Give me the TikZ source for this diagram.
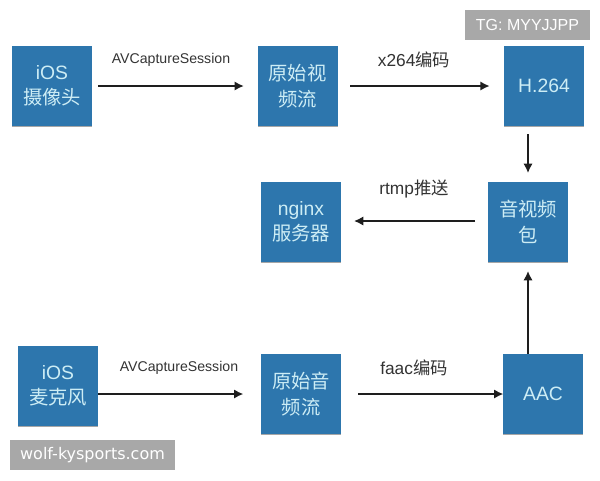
\documentclass[tikz,border=0pt]{standalone}
\usepackage{fontspec}
\setmainfont{Liberation Sans}
\newfontfamily\cjk{Noto Sans CJK SC}
\newfontfamily\wm{DejaVu Sans}
\usetikzlibrary{shadows,arrows.meta}
\definecolor{boxblue}{HTML}{2D76AD}
\definecolor{boxtext}{HTML}{CDEDF5}
\definecolor{linedark}{HTML}{1E1E1E}
\definecolor{labeltext}{HTML}{333333}
\definecolor{wmgray}{HTML}{A8A8A8}
\tikzset{
  px/.style={x=0.75pt,y=-0.75pt},
  bluebox/.style={minimum width=60pt,minimum height=60pt,inner sep=0pt,fill=boxblue,
    text=boxtext,align=center,font=\fontsize{14.5pt}{19pt}\selectfont,
    drop shadow={shadow xshift=0pt,shadow yshift=-0.8pt,opacity=0.35,fill=black}},
  flow/.style={draw=linedark,line width=1.5pt,-{Latex[length=7pt,width=7pt]}},
  flowlabel/.style={text=labeltext,inner sep=0pt,font=\fontsize{13pt}{15pt}\selectfont},
  smalllabel/.style={text=labeltext,inner sep=0pt,font=\fontsize{10.6pt}{13pt}\selectfont},
  wmark/.style={fill=wmgray,text=white,inner sep=0pt,minimum height=22.5pt}
}
\begin{document}
\begin{tikzpicture}[px]
\useasboundingbox (0,0) rectangle (600,480);
\node[bluebox] (ioscam) at (52,86) {iOS\\{\cjk 摄像头}};
\node[bluebox] (rawv) at (297.5,86) {\cjk 原始视\\\cjk 频流};
\node[bluebox] (h264) at (544,86) {H.264};
\node[bluebox] (pkg) at (528,222) {\cjk 音视频\\\cjk 包};
\node[bluebox] (nginx) at (301,222) {nginx\\{\cjk 服务器}};
\node[bluebox] (iosmic) at (58,386) {iOS\\{\cjk 麦克风}};
\node[bluebox] (rawa) at (301,394) {\cjk 原始音\\\cjk 频流};
\node[bluebox] (aac) at (543,394) {AAC};

\draw[flow] ([xshift=4.5pt]ioscam.east) -- ([xshift=-10pt]rawv.west);
\draw[flow] ([xshift=9.5pt]rawv.east) -- ([xshift=-10.5pt]h264.west);
\draw[flow] ([xshift=-12pt,yshift=-6pt]h264.south) -- ([yshift=6.5pt]pkg.north);
\draw[flow] ([xshift=-9.5pt,yshift=0.75pt]pkg.west) -- ([xshift=9.5pt,yshift=0.75pt]nginx.east);
\draw[flow] ([xshift=-11.25pt]aac.north) -- ([yshift=-6.5pt]pkg.south);
\draw[flow] ([yshift=-6pt]iosmic.east) -- ([xshift=-13pt]rawa.west);
\draw[flow] ([xshift=12.75pt]rawa.east) -- ([xshift=0.5pt]aac.west);

\node[smalllabel] (l1) at (171,60) {AVCaptureSession};
\node[flowlabel] (l2) at (414,60) {x264{\cjk 编码}};
\node[flowlabel] (l3) at (414,189) {rtmp{\cjk 推送}};
\node[smalllabel] (l4) at (179,368) {AVCaptureSession};
\node[flowlabel] (l5) at (414,368) {faac{\cjk 编码}};

\node[wmark,minimum width=93.75pt,font=\fontsize{12pt}{14pt}\selectfont] (tg) at (527.5,25) {TG: MYYJJPP};
\node[wmark,minimum width=123.75pt,font=\wm\fontsize{12pt}{14pt}\selectfont] (wolf) at (92.5,455) {wolf-kysports.com};
\end{tikzpicture}
\end{document}
